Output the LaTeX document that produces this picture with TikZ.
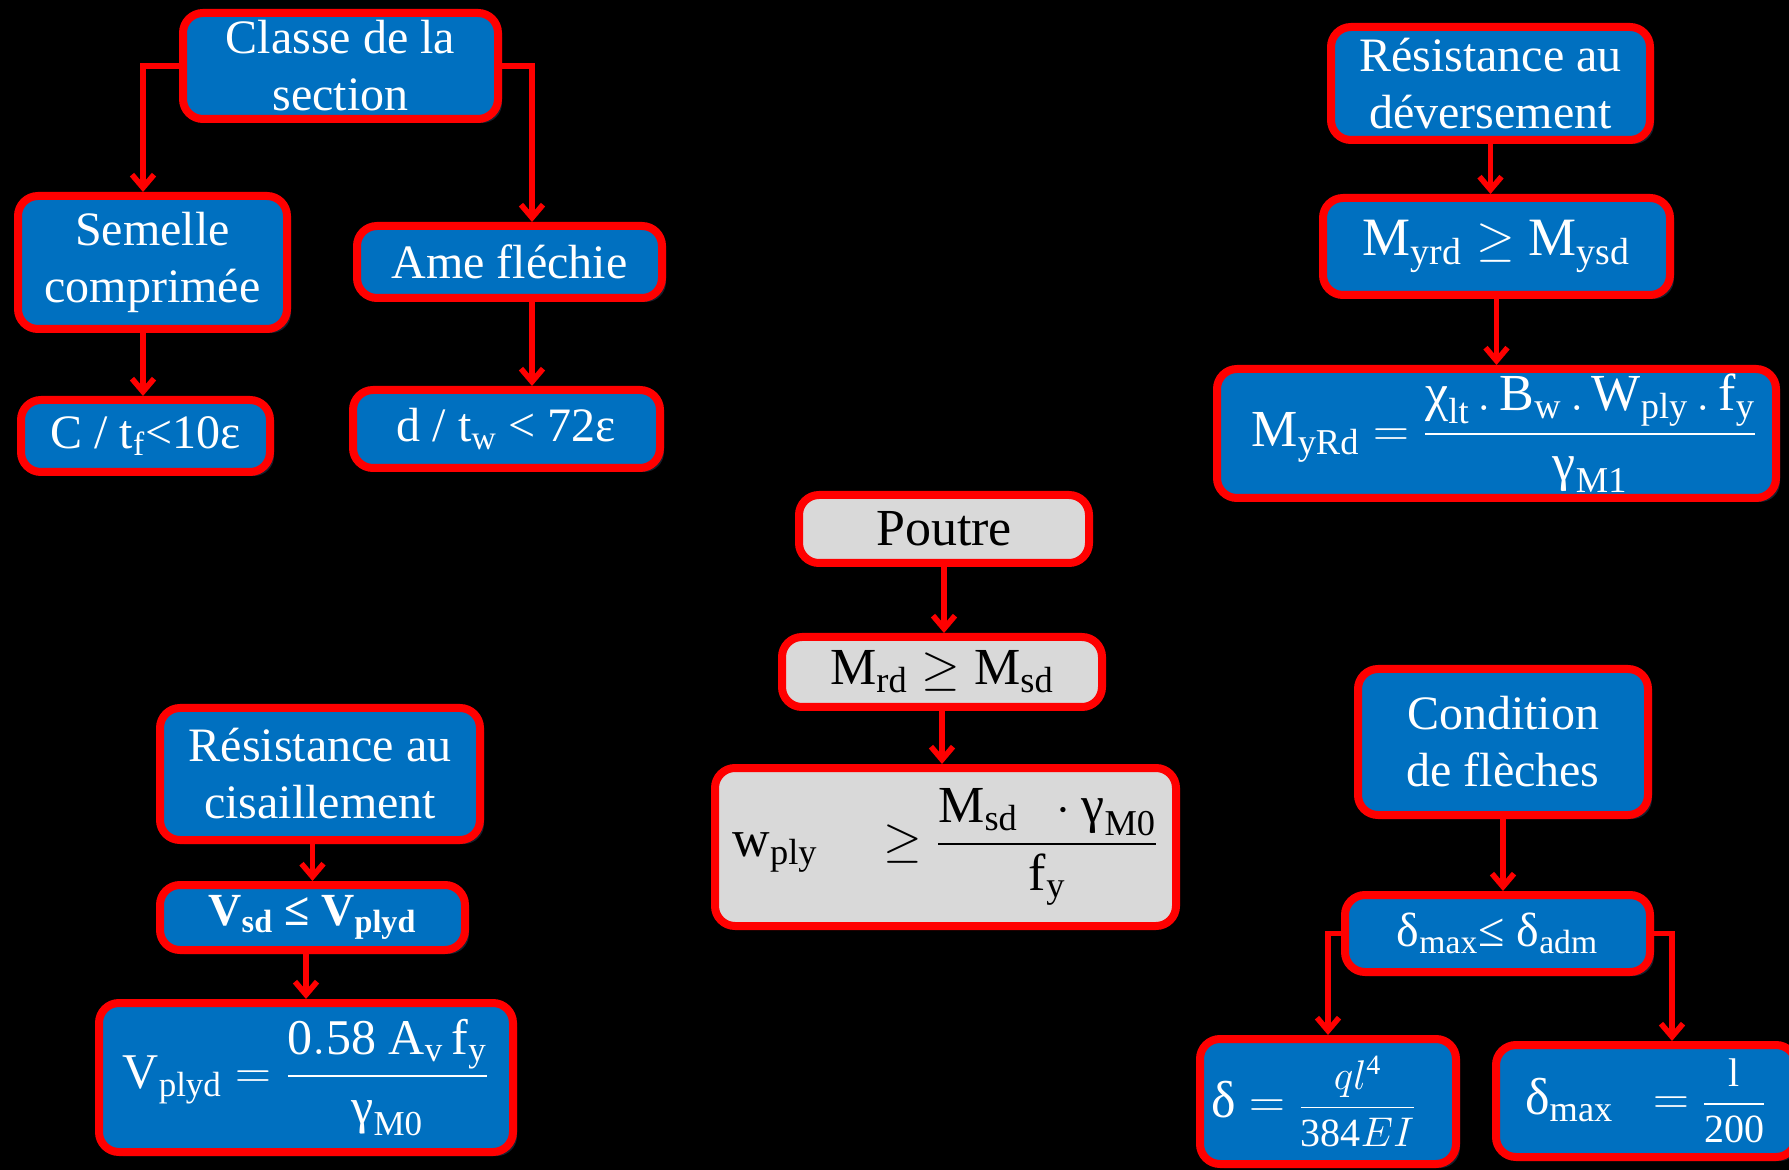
\documentclass[tikz,border=0pt]{standalone}
\usepackage{amsmath}
\usepackage{fontspec}
\setmainfont{Liberation Serif}
\newfontfamily\numfont{Carlito}
\usetikzlibrary{arrows.meta,shadows}

\definecolor{boxblue}{HTML}{0070C0}
\definecolor{boxred}{HTML}{FF0000}
\definecolor{boxgray}{HTML}{D9D9D9}
\definecolor{shade}{HTML}{17202E}

\newcommand{\smallfrac}[2]{{\fontsize{20}{24}\selectfont$\dfrac{#1}{#2}$}}

\begin{document}
\begin{tikzpicture}[x=0.5pt, y=-0.5pt,
    >={Straight Barb[length=6.5pt, width=11pt]},
    box/.style={draw=boxred, line width=4pt, rounded corners=10pt,
        align=center, inner sep=0pt, font=\fontsize{24}{28.5}\selectfont},
    bluebox/.style={box, fill=boxblue, text=white,
        drop shadow={shadow xshift=2pt, shadow yshift=-2pt, fill=shade, opacity=1}},
    graybox/.style={box, fill=boxgray, text=black, font=\fontsize{26}{30}\selectfont},
    eqn/.style={font=\fontsize{26}{30}\selectfont},
    arr/.style={->, draw=boxred, line width=2.8pt}]

    % background
    \fill[black] (0,0) rectangle (1789,1170);
    \useasboundingbox (0,0) rectangle (1789,1170);

    % Classe de la section
    \node[bluebox, minimum width=157.5pt, minimum height=53pt] (classe) at (340.5,66)
        {Classe de la\\section};
    \node[bluebox, minimum width=134.5pt, minimum height=66.5pt] (semelle) at (152.5,262.5)
        {Semelle\\comprimée};
    \node[bluebox, minimum width=152.5pt, minimum height=36pt] (ame) at (509.5,262)
        {Ame fléchie};
    \node[bluebox, minimum width=124.5pt, minimum height=36pt] (ctf) at (145.5,436)
        {C / t$_{\mathrm{f}}$<10ε};
    \node[bluebox, minimum width=153.5pt, minimum height=39pt] (dtw) at (506.5,429)
        {d / t$_{\mathrm{w}}$ < 72ε};

    % Resistance au deversement
    \node[bluebox, minimum width=159.5pt, minimum height=56.5pt] (deversement) at (1490.5,83.5)
        {Résistance au\\déversement};
    \node[bluebox, eqn, font=\fontsize{27}{30}\selectfont, minimum width=173.5pt,
        minimum height=48.5pt] (myrd) at (1496.5,246.5)
        {$\mathrm{M_{yrd}} \geq \mathrm{M_{ysd}}$};
    \node[bluebox, eqn, minimum width=279.5pt, minimum height=64.5pt] (myRd) at (1496.5,433.5)
        {\hspace*{8pt}$\mathrm{M_{yRd}} = \dfrac{\text{χ}_{\mathrm{lt}}\,.\,\mathrm{B_w}\,.\,\mathrm{W_{ply}}\,.\,\mathrm{f_y}}{\text{γ}_{\mathrm{M1}}}$};

    % Poutre
    \node[graybox, minimum width=145pt, minimum height=34pt] (poutre) at (944,529)
        {Poutre};
    \node[graybox, minimum width=160pt, minimum height=35pt] (mrd) at (942,672)
        {$\mathrm{M_{rd}} \geq \mathrm{M_{sd}}$};
    \node[graybox, minimum width=230.5pt, minimum height=79pt] (wply) at (945.5,847)
        {$\mathrm{w_{ply}}\quad\geq \dfrac{\mathrm{M_{sd}}\;\;\cdot\text{γ}_{\mathrm{M0}}}{\mathrm{f_y}}$};

    % Resistance au cisaillement
    \node[bluebox, minimum width=160pt, minimum height=66pt] (cisaillement) at (320,774)
        {Résistance au\\cisaillement};
    \node[bluebox, font=\fontsize{23}{25}\selectfont\bfseries,
        minimum width=152.5pt, minimum height=32.5pt] (vsd) at (312.5,917.5)
        {V$_{\mathbf{sd}}$ ≤ V$_{\mathbf{plyd}}$};
    \node[bluebox, eqn, font=\fontsize{25}{30}\selectfont, minimum width=207pt,
        minimum height=74.5pt] (vplyd) at (306,1077.5)
        {$\mathrm{V_{plyd}} = \dfrac{\mathrm{0.58\ A_v\,f_y}}{\text{γ}_{\mathrm{M0}}}$};

    % Condition de fleches
    \node[bluebox, minimum width=145pt, minimum height=73pt] (condition) at (1503,742)
        {Condition\\de flèches};
    \node[bluebox, minimum width=152.5pt, minimum height=38.5pt] (dmax) at (1497.5,933.5)
        {δ$_{\mathrm{max}}$≤ δ$_{\mathrm{adm}}$};
    \node[bluebox, eqn, minimum width=128pt, minimum height=62.5pt] (dql) at (1328,1101.5)
        {$\text{δ} =$ \smallfrac{ql^{\mathrm{4}}}{\mathrm{384}EI}\hspace*{14pt}};
    \node[bluebox, eqn, minimum width=150pt, minimum height=56pt] (dl) at (1646,1101)
        {$\text{δ}_{\mathrm{max}}\ \ =$ \smallfrac{\mathrm{l}}{\mathrm{200}}};
    \node[text=white!85!black, font=\numfont\fontsize{18}{20}\selectfont] (page) at (1730,1184) {20};

    % connectors
    \draw[arr] (classe.west) -| ([xshift=-4.75pt]semelle.north);
    \draw[arr] (classe.east) -| ([xshift=11.25pt]ame.north);
    \draw[arr] ([xshift=-4.75pt]semelle.south) -- ([xshift=-4.75pt]semelle.south |- ctf.north);
    \draw[arr] ([xshift=11.25pt]ame.south) -- ([xshift=11.25pt]ame.south |- dtw.north);
    \draw[arr] (deversement.south) -- (deversement.south |- myrd.north);
    \draw[arr] (myrd.south) -- (myrd.south |- myRd.north);
    \draw[arr] (poutre.south) -- (poutre.south |- mrd.north);
    \draw[arr] (mrd.south) -- (mrd.south |- wply.north);
    \draw[arr] (vsd.north |- cisaillement.south) -- (vsd.north);
    \draw[arr] (vplyd.north |- vsd.south) -- (vplyd.north);
    \draw[arr] (condition.south) -- (condition.south |- dmax.north);
    \draw[arr] (dmax.west) -| (dql.north);
    \draw[arr] (dmax.east) -| ([xshift=13pt]dl.north);
\end{tikzpicture}
\end{document}
